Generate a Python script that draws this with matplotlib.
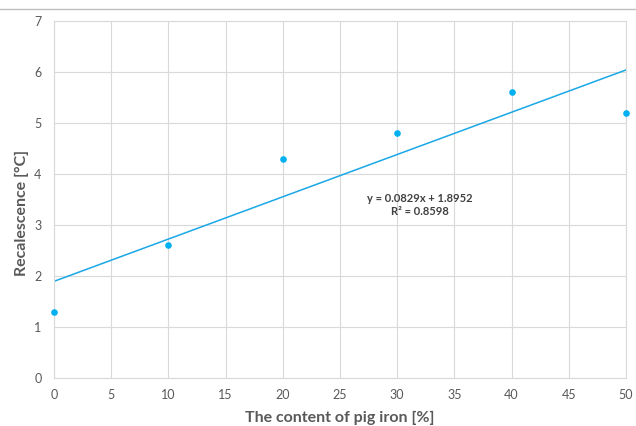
import matplotlib
matplotlib.use("Agg")
import matplotlib.pyplot as plt
from matplotlib.lines import Line2D
import numpy as np

x_vals = [0, 10, 20, 30, 40, 50]
y_vals = [1.3, 2.6, 4.3, 4.8, 5.6, 5.2]
slope = 0.0829
intercept = 1.8952
r2 = 0.8598
x_ticks = [0, 5, 10, 15, 20, 25, 30, 35, 40, 45, 50]
y_ticks = [0, 1, 2, 3, 4, 5, 6, 7]

plt.rcParams['font.family'] = ['Lato', 'DejaVu Sans']

fig = plt.figure(figsize=(6.36, 4.26), dpi=100)
ax = fig.add_axes([54/636, 1-378/426, (626-54)/636, (378-21)/426])

grid_c = '#d9d9d9'
text_c = '#595959'
blue = '#00b0f0'

ax.set_xlim(0, 50)
ax.set_ylim(0, 7)
ax.set_xticks(x_ticks)
ax.set_yticks(y_ticks)
ax.grid(True, color=grid_c, linewidth=0.8)
ax.set_axisbelow(True)
for s in ax.spines.values():
    s.set_color(grid_c)
    s.set_linewidth(0.8)
ax.tick_params(length=0, colors=text_c, labelsize=9)
ax.tick_params(axis='x', pad=8)
ax.tick_params(axis='y', pad=9)

xs = np.array([0, 50])
ax.plot(xs, slope * xs + intercept, color='#1aa7e6', linewidth=1.1, zorder=2)
ax.scatter(x_vals, y_vals, s=14, color=blue, zorder=3, clip_on=False)

ax.text(32.0, 3.39, f"y = {slope}x + {intercept}\nR² = {r2}", fontsize=8,
        color='#404040', fontweight='bold', ha='center', va='center', linespacing=1.25)

ax.set_xlabel('The content of pig iron [%]', fontsize=11.5, color=text_c,
              fontweight='bold', labelpad=7)
ax.set_ylabel('Recalescence [°C]', fontsize=11.5, color=text_c, fontweight='bold')
ax.yaxis.set_label_coords((29 - 54) / 572, (378 - 213) / 357)

fig.add_artist(Line2D([0, 1], [1-9/426, 1-9/426], transform=fig.transFigure,
                      color='#bfbfbf', linewidth=1))

fig.savefig('out.png', dpi=100)
